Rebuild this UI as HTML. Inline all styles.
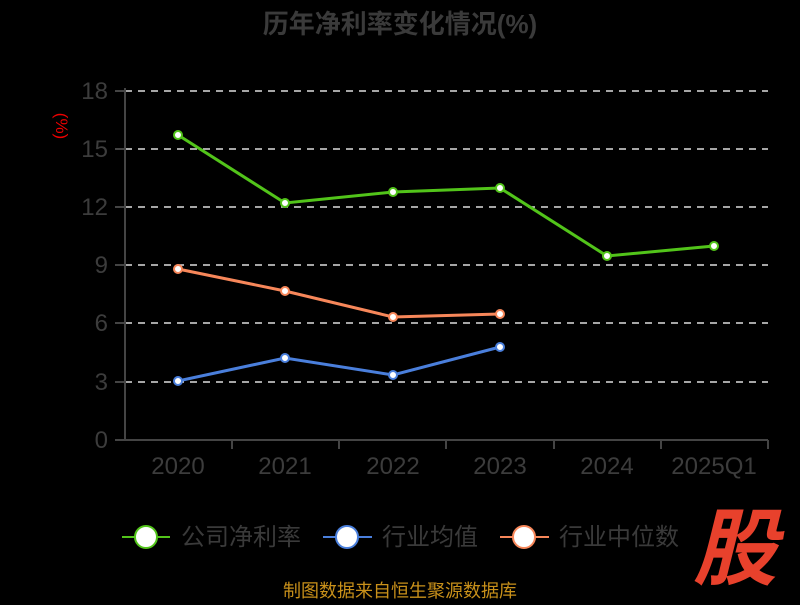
<!DOCTYPE html>
<html><head><meta charset="utf-8"><style>
html,body{margin:0;padding:0;background:#000;}
text{font-family:"Liberation Sans","Noto Sans CJK SC",sans-serif;}
</style></head><body>
<svg width="800" height="600" xmlns="http://www.w3.org/2000/svg">
<rect width="800" height="600" fill="#000"/>
<text x="400" y="33" text-anchor="middle" font-size="26" font-weight="bold" fill="#3a3a3a">历年净利率变化情况(%)</text>
<g stroke="#ddd" stroke-width="1.5" stroke-dasharray="7,6">
<line x1="125" y1="91" x2="768" y2="91"/>
<line x1="125" y1="149" x2="768" y2="149"/>
<line x1="125" y1="207" x2="768" y2="207"/>
<line x1="125" y1="265" x2="768" y2="265"/>
<line x1="125" y1="323" x2="768" y2="323"/>
<line x1="125" y1="382" x2="768" y2="382"/>
</g>
<g stroke="#444" stroke-width="2">
<line x1="125" y1="88" x2="125" y2="441"/>
<line x1="124" y1="440" x2="768" y2="440"/>
<line x1="115" y1="91" x2="125" y2="91"/><line x1="115" y1="149" x2="125" y2="149"/>
<line x1="115" y1="207" x2="125" y2="207"/><line x1="115" y1="265" x2="125" y2="265"/>
<line x1="115" y1="323" x2="125" y2="323"/><line x1="115" y1="382" x2="125" y2="382"/>
<line x1="115" y1="440" x2="125" y2="440"/>
<line x1="232" y1="440" x2="232" y2="449"/><line x1="339" y1="440" x2="339" y2="449"/>
<line x1="446" y1="440" x2="446" y2="449"/><line x1="554" y1="440" x2="554" y2="449"/>
<line x1="661" y1="440" x2="661" y2="449"/><line x1="768" y1="440" x2="768" y2="449"/>
</g>
<g font-size="24" fill="#3c3c3c" text-anchor="end">
<text x="108" y="99">18</text><text x="108" y="157">15</text><text x="108" y="215">12</text>
<text x="108" y="273">9</text><text x="108" y="331">6</text><text x="108" y="390">3</text><text x="108" y="448">0</text>
</g>
<g font-size="24" fill="#3c3c3c" text-anchor="middle">
<text x="178" y="474">2020</text><text x="285" y="474">2021</text><text x="393" y="474">2022</text>
<text x="500" y="474">2023</text><text x="607" y="474">2024</text><text x="714" y="474">2025Q1</text>
</g>
<text transform="translate(56,126) rotate(90)" font-size="17" fill="#e00" text-anchor="middle">(%)</text>
<polyline points="178,135 285,203 393,192 500,188 607,256 714,246" fill="none" stroke="#52c41a" stroke-width="3"/>
<polyline points="178,381 285,358 393,375 500,347" fill="none" stroke="#4a7fdc" stroke-width="3"/>
<polyline points="178,269 285,291 393,317 500,314" fill="none" stroke="#f7875a" stroke-width="3"/>
<g fill="#fff" stroke-width="2">
<g stroke="#52c41a"><circle cx="178" cy="135" r="4"/><circle cx="285" cy="203" r="4"/><circle cx="393" cy="192" r="4"/><circle cx="500" cy="188" r="4"/><circle cx="607" cy="256" r="4"/><circle cx="714" cy="246" r="4"/></g>
<g stroke="#4a7fdc"><circle cx="178" cy="381" r="4"/><circle cx="285" cy="358" r="4"/><circle cx="393" cy="375" r="4"/><circle cx="500" cy="347" r="4"/></g>
<g stroke="#f7875a"><circle cx="178" cy="269" r="4"/><circle cx="285" cy="291" r="4"/><circle cx="393" cy="317" r="4"/><circle cx="500" cy="314" r="4"/></g>
</g>
<g stroke-width="2">
<line x1="122" y1="537" x2="170" y2="537" stroke="#52c41a"/><ellipse cx="146" cy="537" rx="11" ry="11" fill="#fff" stroke="#52c41a"/>
<line x1="323" y1="537" x2="372" y2="537" stroke="#4a7fdc"/><ellipse cx="347" cy="537" rx="11" ry="11" fill="#fff" stroke="#4a7fdc"/>
<line x1="500" y1="537" x2="549" y2="537" stroke="#f7875a"/><ellipse cx="524" cy="537" rx="11" ry="11" fill="#fff" stroke="#f7875a"/>
</g>
<g font-size="24" fill="#3a3a3a">
<text x="181" y="545">公司净利率</text><text x="382" y="545">行业均值</text><text x="559" y="545">行业中位数</text>
</g>
<text x="735" y="578" text-anchor="middle" font-size="84" font-weight="bold" fill="#e8412c" font-style="italic">股</text>
<text x="400" y="597" text-anchor="middle" font-size="18" fill="#c8901a">制图数据来自恒生聚源数据库</text>
</svg>
</body></html>
